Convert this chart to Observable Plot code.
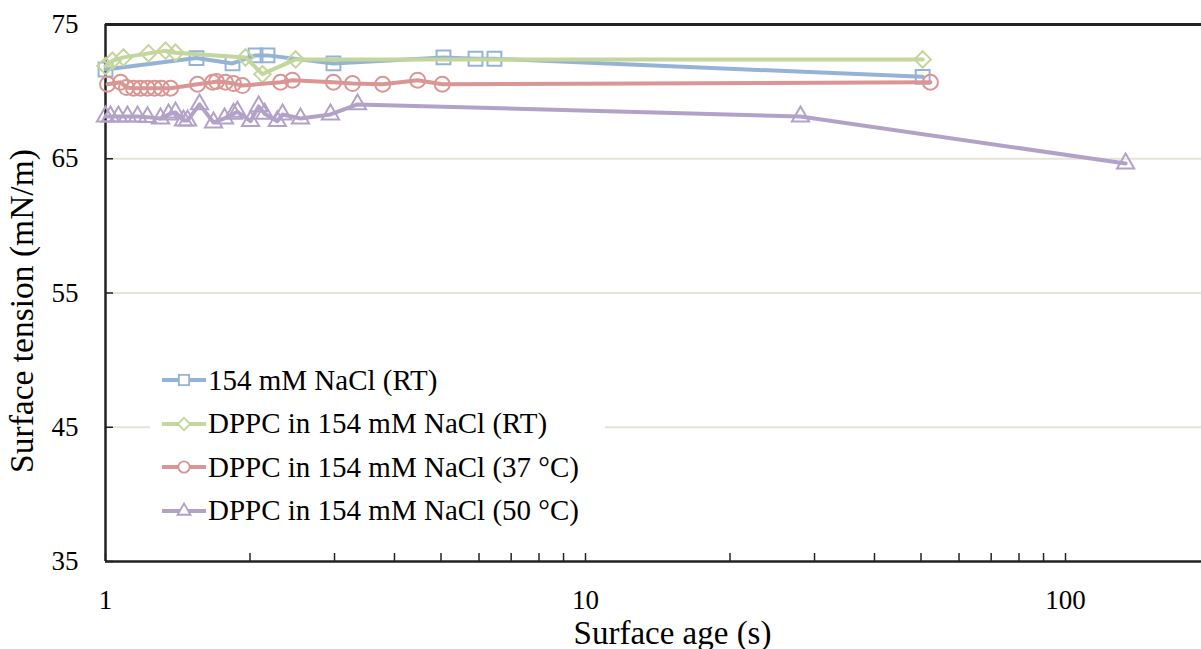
<!DOCTYPE html>
<html>
<head>
<meta charset="utf-8">
<script src="https://cdn.jsdelivr.net/npm/d3@7"></script>
<script src="https://cdn.jsdelivr.net/npm/@observablehq/plot@0.6"></script>
<style>
  html, body { margin: 0; padding: 0; background: #fff; }
  #wrap { position: relative; width: 1201px; height: 649px; font-family: "Liberation Serif", serif; }
  #legend { position: absolute; left: 150px; top: 356px; width: 455px; height: 178px; background: #fff; }
  .item { position: absolute; left: 10px; height: 30px; display: flex; align-items: center; font-family: "Liberation Serif", serif; font-size: 29px; color: #000; white-space: nowrap; }
  .item svg { margin-right: 0px; flex: none; }
</style>
</head>
<body>
<div id="wrap"><div id="legend"></div></div>
<script>
// Series names and colours
const seriesNames = ["154 mM NaCl (RT)", "DPPC in 154 mM NaCl (RT)", "DPPC in 154 mM NaCl (37 °C)", "DPPC in 154 mM NaCl (50 °C)"];
const seriesColors = ["#95b3d7", "#c3d69b", "#d99694", "#b3a2c7"];
const seriesSymbols = ["square2", "diamond2", "circle", "triangle2"];

// Surface age (s) and surface tension (mN/m) for each series
const blueX = [1.0, 1.547, 1.839, 2.054, 2.175, 2.985, 5.06, 5.90, 6.46, 50.4];
const blueY = [71.65, 72.5, 72.1, 72.7, 72.7, 72.1, 72.55, 72.45, 72.45, 71.1];

const greenX = [1.0, 1.034, 1.09, 1.229, 1.334, 1.399, 1.957, 2.123, 2.489, 50.4];
const greenY = [71.9, 72.3, 72.55, 72.85, 73.05, 72.9, 72.55, 71.3, 72.4, 72.4];

const redX = [1.01, 1.075, 1.106, 1.144, 1.183, 1.223, 1.265, 1.308, 1.366, 1.555, 1.671, 1.703, 1.778, 1.848, 1.929, 2.316, 2.451, 2.985, 3.27, 3.78, 4.47, 5.03, 52.3];
const redY = [70.55, 70.7, 70.3, 70.25, 70.25, 70.25, 70.25, 70.25, 70.25, 70.55, 70.7, 70.75, 70.7, 70.6, 70.45, 70.7, 70.85, 70.7, 70.6, 70.55, 70.85, 70.55, 70.7];

const purpleX = [1.0, 1.024, 1.064, 1.111, 1.166, 1.223, 1.302, 1.353, 1.399, 1.454, 1.482, 1.57, 1.679, 1.77, 1.848, 1.883, 2.005, 2.085, 2.146, 2.28, 2.338, 2.548, 2.942, 3.35, 28.05, 133.4];
const purpleY = [68.15, 68.15, 68.15, 68.15, 68.15, 68.1, 68.0, 68.3, 68.45, 67.85, 67.85, 69.05, 67.7, 68.0, 68.35, 68.5, 67.8, 68.9, 68.35, 67.8, 68.3, 68.0, 68.3, 69.05, 68.15, 64.65];

// Axis ticks
const yTicks = [35, 45, 55, 65, 75];
const yGrid = [45, 55, 65];
const xLabelTicks = [1, 10, 100];
const xAllTicks = [1, 2, 3, 4, 5, 6, 7, 8, 9, 10, 20, 30, 40, 50, 60, 70, 80, 90, 100];

const seriesX = [blueX, greenX, redX, purpleX];
const seriesY = [blueY, greenY, redY, purpleY];
const markerR = [8.8, 7.4, 7.5, 8.2];
const legendSymbols = [d3.symbolSquare2, d3.symbolDiamond2, d3.symbolCircle, d3.symbolTriangle2];

const data = seriesNames.flatMap((name, i) =>
  seriesX[i].map((x, j) => ({series: name, x, y: seriesY[i][j]}))
);

const FONT = "'Liberation Serif', serif";

const marks = [
  Plot.gridY(yGrid, {stroke: "#e6e4d6", strokeOpacity: 1, strokeWidth: 2}),
  Plot.ruleY([75], {stroke: "#222", strokeWidth: 3}),
  Plot.ruleY([35], {stroke: "#222", strokeWidth: 2.5}),
  Plot.ruleX([1], {stroke: "#222", strokeWidth: 2.5}),
  Plot.axisX({ticks: xAllTicks, tickSize: -8, text: null, stroke: "#222", strokeWidth: 1.5, label: null}),
  Plot.axisX({ticks: xLabelTicks, tickSize: 0, tickPadding: 28, tickFormat: d => String(d), label: null, fontSize: 27, fontFamily: FONT}),
  Plot.axisY({ticks: yTicks, tickSize: -8, text: null, stroke: "#222", strokeWidth: 1.5, label: null}),
  Plot.axisY({ticks: yTicks, tickSize: 0, tickPadding: 27, label: null, fontSize: 27, fontFamily: FONT}),
  Plot.text(["Surface age (s)"], {frameAnchor: "bottom", lineAnchor: "middle", textAnchor: "middle", dx: 19, dy: 72, fontSize: 33, fontFamily: FONT}),
  Plot.text(["Surface tension (mN/m)"], {frameAnchor: "left", lineAnchor: "middle", textAnchor: "middle", rotate: -90, dx: -83, dy: 18, fontSize: 33.5, fontFamily: FONT})
];

seriesNames.forEach((name, i) => {
  const d = data.filter(r => r.series === name);
  marks.push(Plot.line(d, {x: "x", y: "y", stroke: seriesColors[i], strokeWidth: 4}));
  marks.push(Plot.dot(d, {x: "x", y: "y", symbol: seriesSymbols[i], r: markerR[i], stroke: seriesColors[i], strokeWidth: 2, fill: "none"}));
});

const chart = Plot.plot({
  width: 1201,
  height: 649,
  marginLeft: 105,
  marginRight: 0,
  marginTop: 24,
  marginBottom: 88,
  x: {type: "log", domain: [1, 192]},
  y: {domain: [35, 75]},
  style: {fontFamily: FONT, fontSize: "27px", color: "#000", background: "#fff", overflow: "visible"},
  marks
});
const wrap = document.getElementById("wrap");
wrap.insertBefore(chart, wrap.firstChild);

// Legend
const legend = document.getElementById("legend");
seriesNames.forEach((name, i) => {
  const item = document.createElement("div");
  item.className = "item";
  item.style.top = (9 + i * 43.5) + "px";
  const sym = d3.symbol(legendSymbols[i], Math.PI * markerR[i] * markerR[i])();
  item.innerHTML = `<svg width="48" height="30" viewBox="0 0 48 30">
    <line x1="2" x2="46" y1="15" y2="15" stroke="${seriesColors[i]}" stroke-width="4"/>
    <path d="${sym}" transform="translate(24,15) scale(0.75)" fill="#fff" stroke="${seriesColors[i]}" stroke-width="2.5"/>
  </svg><span>${name}</span>`;
  legend.appendChild(item);
});
</script>
</body>
</html>
